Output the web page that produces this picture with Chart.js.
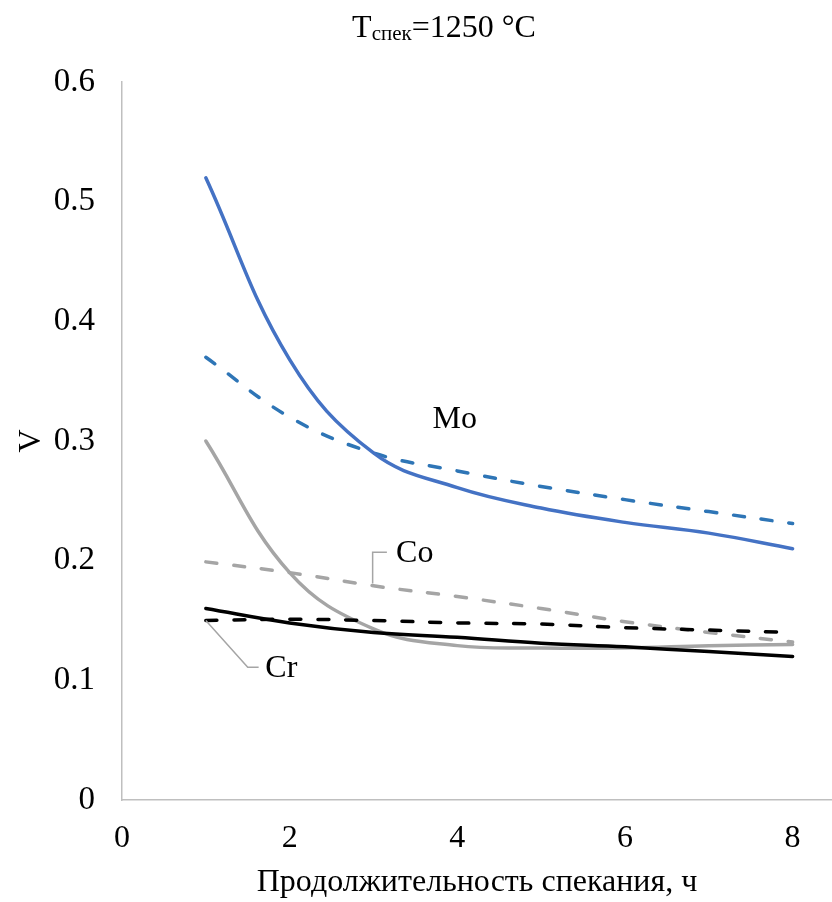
<!DOCTYPE html>
<html>
<head>
<meta charset="utf-8">
<script src="https://cdn.jsdelivr.net/npm/chart.js@4"></script>
<style>
  html, body { margin: 0; padding: 0; background: #fff; }
  #wrap { width: 832px; height: 902px; }
</style>
</head>
<body>
<div id="wrap"><canvas id="chart"></canvas></div>
<script>
const hours = [1, 2, 3, 4, 5, 6, 7, 8];
const moSolid = [0.52, 0.368, 0.29, 0.261, 0.244, 0.232, 0.223, 0.21];
const moDashed = [0.37, 0.32, 0.29, 0.275, 0.262, 0.251, 0.241, 0.231];
const coSolid = [0.30, 0.19, 0.143, 0.129, 0.127, 0.127, 0.129, 0.13];
const coDashed = [0.199, 0.19, 0.179, 0.17, 0.16, 0.149, 0.14, 0.132];
const crSolid = [0.16, 0.148, 0.14, 0.136, 0.131, 0.128, 0.124, 0.12];
const crDashed = [0.15, 0.151, 0.15, 0.148, 0.147, 0.144, 0.142, 0.14];

const xTicks = [0, 2, 4, 6, 8];
const yTicks = [0, 0.1, 0.2, 0.3, 0.4, 0.5, 0.6];

const serif = '"Liberation Serif", "Times New Roman", serif';

const pts = (ys) => hours.map((h, i) => ({ x: h, y: ys[i] }));

const line = (data, color, dashed) => ({
  data: pts(data),
  borderColor: color,
  borderWidth: 3.5,
  borderDash: dashed ? [11, 17] : [],
  borderCapStyle: 'round',
  pointRadius: 0,
  fill: false,
  tension: 0.4,
});

// element labels with leader lines, placed in data units
const labels = {
  id: 'labels',
  afterDatasetsDraw(chart) {
    const { ctx, scales: { x, y } } = chart;
    ctx.save();
    ctx.strokeStyle = '#A5A5A5';
    ctx.lineWidth = 1.5;

    // Co leader
    ctx.beginPath();
    ctx.moveTo(x.getPixelForValue(3.16), y.getPixelForValue(0.207));
    ctx.lineTo(x.getPixelForValue(2.99), y.getPixelForValue(0.207));
    ctx.lineTo(x.getPixelForValue(2.99), y.getPixelForValue(0.181));
    ctx.stroke();

    // Cr leader
    ctx.beginPath();
    ctx.moveTo(x.getPixelForValue(1), y.getPixelForValue(0.15));
    ctx.lineTo(x.getPixelForValue(1.5), y.getPixelForValue(0.111));
    ctx.lineTo(x.getPixelForValue(1.63), y.getPixelForValue(0.111));
    ctx.stroke();

    ctx.fillStyle = '#000';
    ctx.font = '32px ' + serif;
    ctx.textBaseline = 'middle';
    ctx.textAlign = 'center';
    ctx.fillText('Mo', x.getPixelForValue(3.97), y.getPixelForValue(0.318));
    ctx.textAlign = 'left';
    ctx.fillText('Co', x.getPixelForValue(3.27), y.getPixelForValue(0.206));
    ctx.fillText('Cr', x.getPixelForValue(1.71), y.getPixelForValue(0.11));
    ctx.restore();
  },
  afterDraw(chart) {
    // title with subscript
    const ctx = chart.ctx;
    ctx.save();
    ctx.fillStyle = '#000';
    ctx.textBaseline = 'alphabetic';
    ctx.textAlign = 'left';
    const big = '32px ' + serif, small = '21px ' + serif;
    ctx.font = big;
    const wT = ctx.measureText('T').width;
    const wRest = ctx.measureText('=1250 °C').width;
    ctx.font = small;
    const wSub = ctx.measureText('спек').width;
    let cx = 444 - (wT + wSub + wRest) / 2;
    const base = 37;
    ctx.font = big;
    ctx.fillText('T', cx, base);
    cx += wT;
    ctx.font = small;
    ctx.fillText('спек', cx, base + 3);
    cx += wSub;
    ctx.font = big;
    ctx.fillText('=1250 °C', cx, base);
    ctx.restore();
  }
};

new Chart(document.getElementById('chart'), {
  type: 'line',
  data: {
    datasets: [
      line(crSolid, '#000000', false),
      line(crDashed, '#000000', true),
      line(coSolid, '#A5A5A5', false),
      line(coDashed, '#A5A5A5', true),
      line(moSolid, '#4472C4', false),
      line(moDashed, '#2E75B6', true),
    ]
  },
  options: {
    responsive: true,
    maintainAspectRatio: false,
    animation: false,
    layout: { padding: { top: 82, right: 0, left: 0, bottom: 0 } },
    plugins: {
      legend: { display: false },
      title: { display: false },
      tooltip: { enabled: false },
    },
    scales: {
      x: {
        type: 'linear',
        min: 0,
        max: 8.47,
        afterBuildTicks: (scale) => { scale.ticks = xTicks.map(v => ({ value: v })); },
        afterFit: (scale) => { scale.height = 102; },
        grid: { display: false, drawTicks: false },
        border: { display: true, color: '#BFBFBF', width: 1.5 },
        ticks: { color: '#000', font: { family: serif, size: 32 }, padding: 19, maxRotation: 0 },
        title: {
          display: true,
          text: 'Продолжительность спекания, ч',
          color: '#000',
          font: { family: serif, size: 32 },
          padding: { top: 0, bottom: 0 },
        },
      },
      y: {
        min: 0,
        max: 0.6,
        afterBuildTicks: (scale) => { scale.ticks = yTicks.map(v => ({ value: v })); },
        afterFit: (scale) => { scale.width = 122; },
        grid: { display: false, drawTicks: false },
        border: { display: true, color: '#BFBFBF', width: 1.5 },
        ticks: {
          color: '#000',
          font: { family: serif, size: 33 },
          padding: 27,
          callback: (v) => String(Math.round(v * 10) / 10),
        },
        title: {
          display: true,
          text: 'V',
          color: '#000',
          font: { family: serif, size: 32 },
          padding: { top: 12, bottom: 0 },
        },
      },
    },
  },
  plugins: [labels],
});
</script>
</body>
</html>
